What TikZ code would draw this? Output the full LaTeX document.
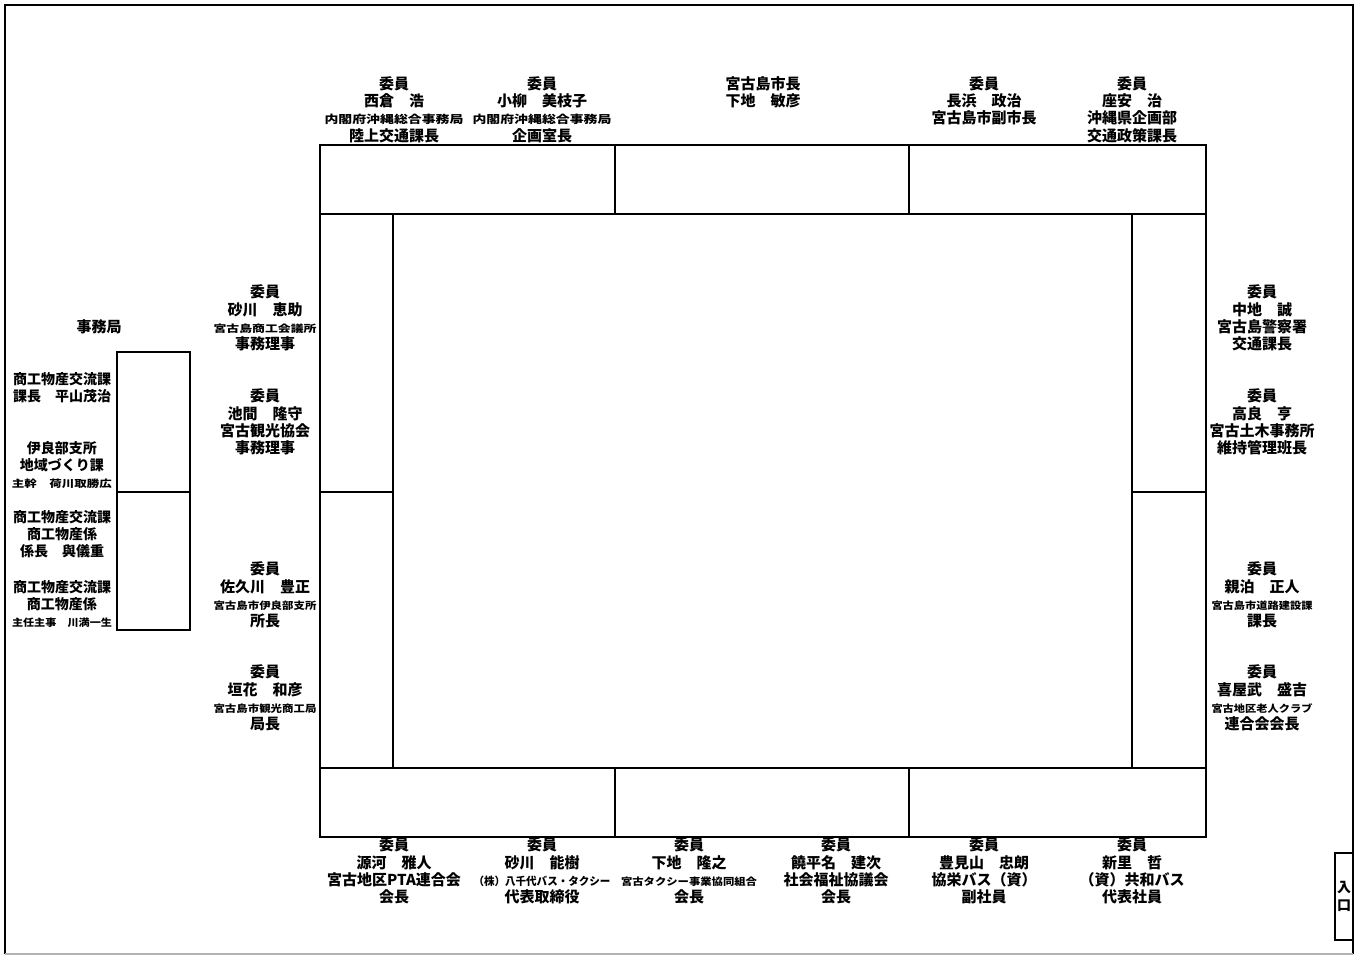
\documentclass[tikz,border=0pt]{standalone}
\usepackage{fontspec}
\newfontfamily\jp{Noto Sans CJK JP}
\usepackage{tikz}
\usetikzlibrary{calc, positioning}

% narrow line of text, stretched to a given width
\newcommand{\wline}[3][10]{\resizebox{#2pt}{\height}{\fontsize{#1}{#1}\selectfont #3}}

\tikzset{
    seat/.style={align=center, inner sep=0pt, font=\jp\bfseries\fontsize{15}{17.3}\selectfont},
    office/.style={align=center, inner sep=0pt, font=\jp\bfseries\fontsize{14}{17}\selectfont},
    desk/.style={line width=1.3pt},
}

\begin{document}
\begin{tikzpicture}[x=1pt, y=-1pt]
    \useasboundingbox (0,0) rectangle (1362,956);
    % Khung ngoài
    \draw[line width=1.2pt] (5,954) -- (5,5) -- (1353,5) -- (1353,954);
    \draw[line width=1.2pt, gray!60] (5,954) -- (1353,954);

    % Bàn họp
    \draw[desk] (320,145) rectangle (1206,837);
    \draw[desk] (320,214) -- (1206,214);
    \draw[desk] (320,768) -- (1206,768);
    \draw[desk] (393,214) -- (393,768);
    \draw[desk] (1132,214) -- (1132,768);
    \draw[desk] (615,145) -- (615,214);
    \draw[desk] (909,145) -- (909,214);
    \draw[desk] (615,768) -- (615,837);
    \draw[desk] (909,768) -- (909,837);
    \draw[desk] (320,492) -- (393,492);
    \draw[desk] (1132,492) -- (1206,492);

    % Bàn sự vụ
    \draw[desk] (117,352) rectangle (190,630);
    \draw[desk] (117,492) -- (190,492);

    % Lối vào
    \draw[desk] (1335,853) rectangle (1353,940);
    \node[seat, font=\jp\bfseries\fontsize{14}{18}\selectfont] (entry) at (1344,896) {入\\口};

    % Hàng trên
    \node[seat] (t1) at (394,109.5) {委員\\西倉　浩\\\wline[11]{139}{内閣府沖縄総合事務局}\\陸上交通課長};
    \node[seat] (t2) at (542,109.5) {委員\\小柳　美枝子\\\wline[11]{139}{内閣府沖縄総合事務局}\\企画室長};
    \node[seat] (t3) at (763,92) {宮古島市長\\下地　敏彦};
    \node[seat] (t4) at (984,101) {委員\\長浜　政治\\宮古島市副市長};
    \node[seat] (t5) at (1132,109.5) {委員\\座安　治\\沖縄県企画部\\交通政策課長};

    % Bên trái
    \node[seat] (l1) at (265,318) {委員\\砂川　恵助\\\wline{103}{宮古島商工会議所}\\事務理事};
    \node[seat] (l2) at (265,422) {委員\\池間　隆守\\宮古観光協会\\事務理事};
    \node[seat] (l3) at (265,595) {委員\\佐久川　豊正\\\wline{103}{宮古島市伊良部支所}\\所長};
    \node[seat] (l4) at (265,698) {委員\\垣花　和彦\\\wline{103}{宮古島市観光商工局}\\局長};

    % Bên phải
    \node[seat] (r1) at (1262,318) {委員\\中地　誠\\宮古島警察署\\交通課長};
    \node[seat] (r2) at (1262,422) {委員\\高良　亨\\宮古土木事務所\\維持管理班長};
    \node[seat] (r3) at (1262,595) {委員\\親泊　正人\\\wline{101}{宮古島市道路建設課}\\課長};
    \node[seat] (r4) at (1262,698) {委員\\喜屋武　盛吉\\\wline{101}{宮古地区老人クラブ}\\連合会会長};

    % Hàng dưới
    \node[seat] (b1) at (394,871) {委員\\源河　雅人\\宮古地区PTA連合会\\会長};
    \node[seat] (b2) at (542,871) {委員\\砂川　能樹\\\wline[11]{137}{（株）八千代バス・タクシー}\\代表取締役};
    \node[seat] (b3) at (689,871) {委員\\下地　隆之\\\wline{136}{宮古タクシー事業協同組合}\\会長};
    \node[seat] (b4) at (836,871) {委員\\饒平名　建次\\社会福祉協議会\\会長};
    \node[seat] (b5) at (984,871) {委員\\豊見山　忠朗\\協栄バス（資）\\副社員};
    \node[seat] (b6) at (1132,871) {委員\\新里　哲\\（資）共和バス\\代表社員};

    % Sự vụ cục
    \node[seat] (sec) at (99,327) {事務局};
    \node[office] (s1) at (62,387.5) {商工物産交流課\\課長　平山茂治};
    \node[office] (s2) at (62,465.5) {伊良部支所\\地域づくり課\\\wline{100}{主幹　荷川取勝広}};
    \node[office] (s3) at (62,534) {商工物産交流課\\商工物産係\\係長　與儀重};
    \node[office] (s4) at (62,604) {商工物産交流課\\商工物産係\\\wline{100}{主任主事　川満一生}};
\end{tikzpicture}
\end{document}
